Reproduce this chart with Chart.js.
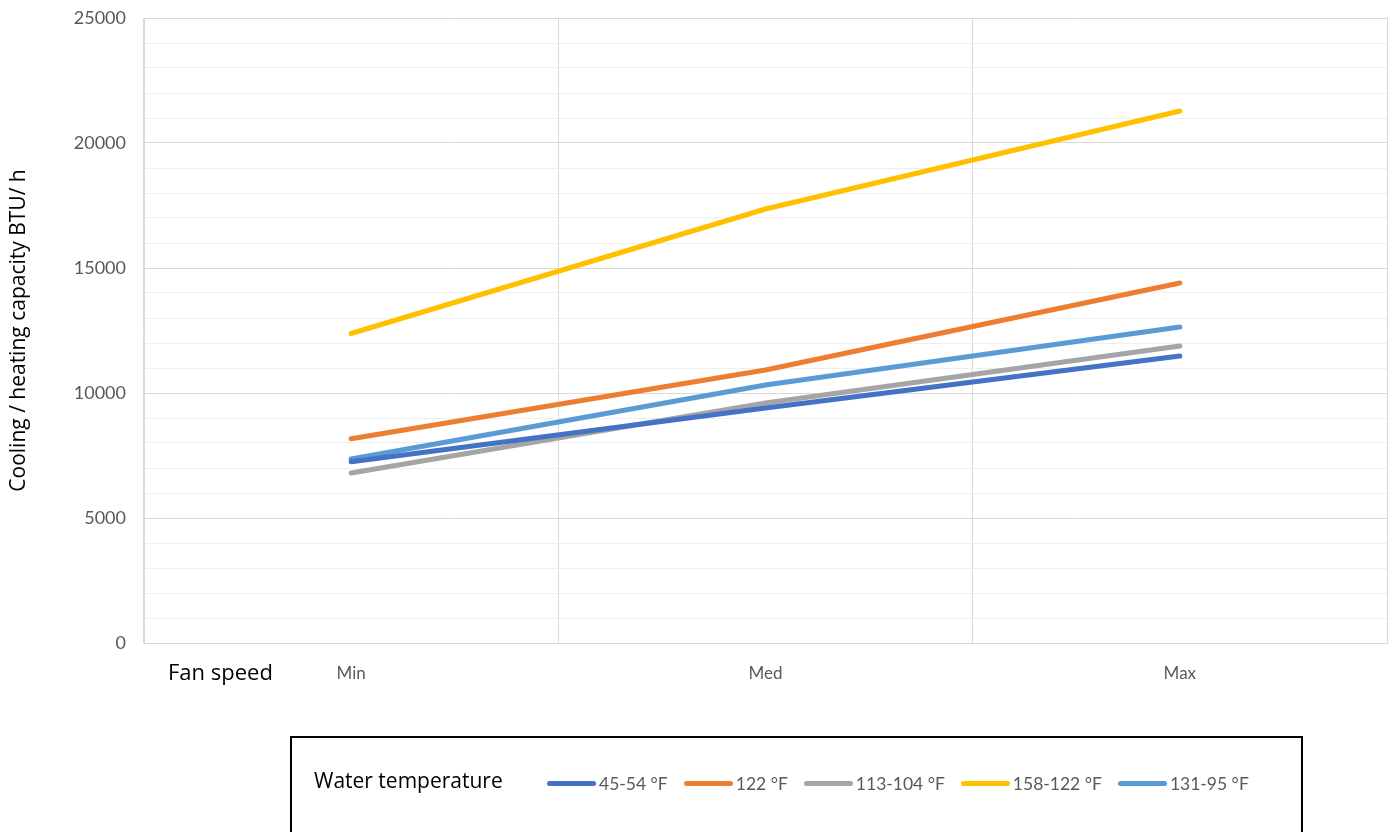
<!DOCTYPE html>
<html>
<head>
<meta charset="utf-8">
<script src="https://cdn.jsdelivr.net/npm/chart.js@4"></script>
<style>
  html, body { margin: 0; padding: 0; background: #fff; }
  #wrap { position: relative; width: 1395px; height: 832px; overflow: hidden; }
  #legend {
    position: absolute; left: 290px; top: 736px; width: 1009px; height: 110px;
    border: 2px solid #000; box-sizing: content-box;
    font-family: 'Open Sans', sans-serif;
  }
  #legend .title { position: absolute; left: 22px; top: 28px; font-size: 21px; color: #000; }
  #legend .items { position: absolute; left: 255px; top: 35px; display: flex; align-items: center; }
  #legend .item { display: flex; align-items: center; margin-right: 16px; font-family: Lato, sans-serif; font-size: 17.5px; color: #595959; }
  #legend .swatch { width: 49px; height: 5px; border-radius: 3px; margin-right: 3px; }
</style>
</head>
<body>
<div id="wrap">
  <canvas id="chart" width="1395" height="832"></canvas>
  <div id="legend"><span class="title">Water temperature</span><div class="items" id="legend-items"></div></div>
</div>
<script>
const fanSpeeds = ['Min', 'Med', 'Max'];
const seriesNames = ['45-54 °F', '122 °F', '113-104 °F', '158-122 °F', '131-95 °F'];
const seriesColors = ['#4472C4', '#ED7D31', '#A5A5A5', '#FFC000', '#5B9BD5'];

const temp4554 = [7250, 9400, 11480];
const temp122 = [8170, 10920, 14400];
const temp113104 = [6800, 9600, 11880];
const temp158122 = [12380, 17360, 21280];
const temp13195 = [7360, 10320, 12640];

const yMin = 0;
const yMax = 25000;
const yStep = 1000;
const yLabelStep = 5000;

const seriesValues = [temp4554, temp122, temp113104, temp158122, temp13195];

// x axis caption on the left of the tick row
const fanSpeedLabel = {
  id: 'fanSpeedLabel',
  afterDraw(chart) {
    const ctx = chart.ctx;
    ctx.save();
    ctx.font = '22px "Open Sans", sans-serif';
    ctx.fillStyle = '#000';
    ctx.textAlign = 'left';
    ctx.textBaseline = 'middle';
    ctx.fillText('Fan speed', 168, 674);
    ctx.restore();
  }
};

const datasets = seriesNames.map((name, i) => ({
  label: name,
  data: seriesValues[i],
  borderColor: seriesColors[i],
  backgroundColor: seriesColors[i],
  borderWidth: 5,
  borderCapStyle: 'round',
  borderJoinStyle: 'round',
  pointRadius: 0,
  tension: 0,
  fill: false
}));

new Chart(document.getElementById('chart'), {
  type: 'line',
  data: { labels: fanSpeeds, datasets },
  options: {
    responsive: false,
    animation: false,
    layout: { padding: { top: 18, right: 8, bottom: 0, left: 0 } },
    plugins: { legend: { display: false }, tooltip: { enabled: false } },
    scales: {
      x: {
        offset: true,
        grid: { offset: true, color: '#d9d9d9', drawTicks: false },
        border: { color: '#d9d9d9' },
        ticks: { color: '#595959', font: { family: 'Lato', size: 17 }, padding: 20 },
        afterFit(scale) { scale.height = 189; }
      },
      y: {
        min: yMin,
        max: yMax,
        grid: {
          drawTicks: false,
          color: c => (c.tick && c.tick.value % yLabelStep === 0) ? '#d9d9d9' : '#efefef'
        },
        border: { color: '#d9d9d9' },
        ticks: {
          stepSize: yStep,
          maxTicksLimit: 30,
          autoSkip: false,
          color: '#595959',
          font: { family: 'Lato', size: 18 },
          padding: 18,
          callback: v => (v % yLabelStep === 0 ? String(v) : '')
        },
        title: {
          display: true,
          text: 'Cooling / heating capacity BTU/ h',
          color: '#000',
          font: { family: 'Open Sans', size: 21 },
          padding: { top: 6, bottom: 0 }
        },
        afterFit(scale) {
          scale.width = 144;
          scale.paddingTop = 0;
          scale.paddingBottom = 0;
        }
      }
    }
  },
  plugins: [fanSpeedLabel]
});

const items = document.getElementById('legend-items');
seriesNames.forEach((name, i) => {
  const el = document.createElement('div');
  el.className = 'item';
  el.innerHTML = `<span class="swatch" style="background:${seriesColors[i]}"></span><span>${name}</span>`;
  items.appendChild(el);
});
</script>
</body>
</html>
